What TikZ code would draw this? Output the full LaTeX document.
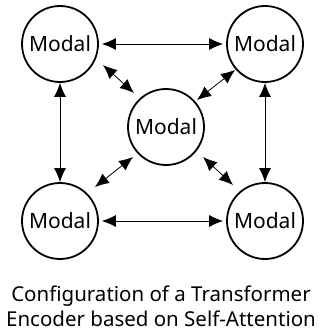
\documentclass[tikz,border=0pt]{standalone}
\usepackage{fontspec}
\setmainfont{Noto Sans}
\usetikzlibrary{arrows.meta}
\begin{document}
\begin{tikzpicture}[x=1pt,y=-1pt,
  modal/.style={circle,draw,line width=1.8pt,minimum size=76pt,inner sep=0pt,font=\fontsize{21}{24}\selectfont},
  link/.style={line width=0.8pt,{Latex[length=14pt,width=12pt]}-{Latex[length=14pt,width=12pt]}},
  caption/.style={align=center,inner sep=0pt,font=\fontsize{20.5}{25}\selectfont}]
\useasboundingbox (0,0) rectangle (320,332);
% five modal nodes
\node[modal] (tl) at (60,44) {Modal};
\node[modal] (tr) at (265,44) {Modal};
\node[modal] (c)  at (166,127) {Modal};
\node[modal] (bl) at (60,221) {Modal};
\node[modal] (br) at (265,221) {Modal};
% ends of the short diagonal links
\coordinate (d1a) at (103,65);
\coordinate (d1b) at (134,93);
\coordinate (d2a) at (235,70);
\coordinate (d2b) at (197,100);
\coordinate (d3a) at (133,157);
\coordinate (d3b) at (95,187);
\coordinate (d4a) at (203,157);
\coordinate (d4b) at (233,185);
% links between the outer nodes
\draw[link,shorten <=3pt,shorten >=3pt] (tl) -- (tr);
\draw[link,shorten <=3pt,shorten >=3pt] (bl) -- (br);
\draw[link] (tl) -- (bl);
\draw[link] (tr) -- (br);
% links to the centre node
\draw[link] (d1a) -- (d1b);
\draw[link] (d2a) -- (d2b);
\draw[link] (d3a) -- (d3b);
\draw[link] (d4a) -- (d4b);
% caption
\node[caption,anchor=base] (cap) at (161,326) {Configuration of a Transformer\\Encoder based on Self-Attention};
\end{tikzpicture}
\end{document}
